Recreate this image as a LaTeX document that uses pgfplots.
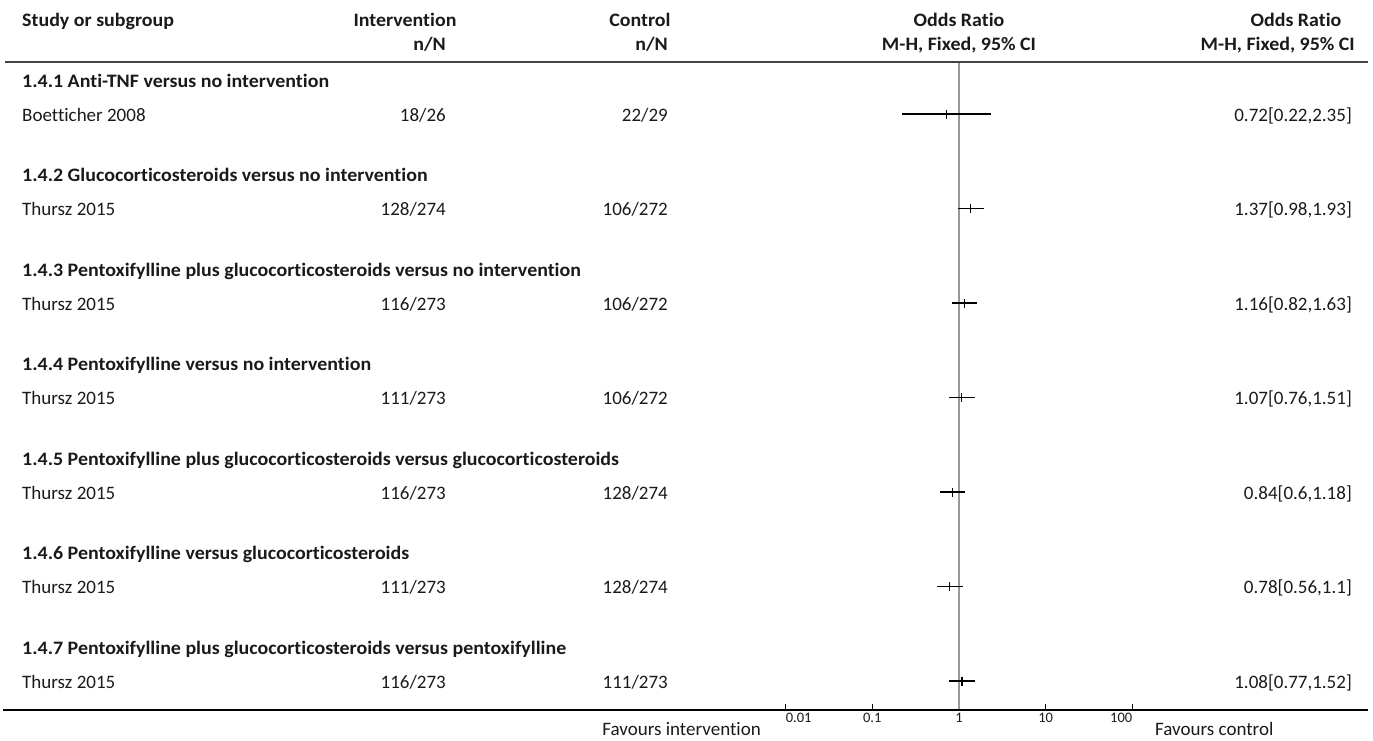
\documentclass[border=0pt]{standalone}
\usepackage{pgfplots}
\pgfplotsset{compat=1.18}
\usepackage{pgfplotstable}
\usepackage{fontspec}
\setmainfont{Carlito}[Ligatures=NoCommon, BoldFeatures={FakeStretch=1.05}]

\definecolor{rulegray}{HTML}{444444}
\definecolor{refgray}{HTML}{999999}
\definecolor{ink}{HTML}{1A1A1A}

% one row per comparison: subgroup heading, study, events/total in both arms, OR with 95% CI
\pgfplotstableread[col sep=comma]{
row,grp,study,ie,it,ce,ct,or,lo,hi
0,1.4.1 Anti-TNF versus no intervention,Boetticher 2008,18,26,22,29,0.72,0.22,2.35
1,1.4.2 Glucocorticosteroids versus no intervention,Thursz 2015,128,274,106,272,1.37,0.98,1.93
2,1.4.3 Pentoxifylline plus glucocorticosteroids versus no intervention,Thursz 2015,116,273,106,272,1.16,0.82,1.63
3,1.4.4 Pentoxifylline versus no intervention,Thursz 2015,111,273,106,272,1.07,0.76,1.51
4,1.4.5 Pentoxifylline plus glucocorticosteroids versus glucocorticosteroids,Thursz 2015,116,273,128,274,0.84,0.6,1.18
5,1.4.6 Pentoxifylline versus glucocorticosteroids,Thursz 2015,111,273,128,274,0.78,0.56,1.1
6,1.4.7 Pentoxifylline plus glucocorticosteroids versus pentoxifylline,Thursz 2015,116,273,111,273,1.08,0.77,1.52
}\studies

\newcommand{\rowfont}{\fontsize{19}{22}\selectfont}
\newcommand{\scalefont}{\fontsize{14.5}{17}\selectfont}

\begin{document}
\begin{tikzpicture}
\path[use as bounding box] (0pt,0pt) rectangle (1373pt,-740pt);

\begin{axis}[
  at={(785.6pt,-710pt)}, anchor=south west,
  scale only axis, width=346.8pt, height=647pt,
  xmode=log, xmin=0.01, xmax=100,
  ymin=-6.3069, ymax=0.5397,
  axis x line*=bottom, hide y axis,
  axis line style={draw=none},
  xtick={0.01,0.1,1,10,100},
  xticklabels={},
  tick align=inside, major tick length=6pt,
  tick style={black, line width=0.9pt},
  minor tick num=0, xminorticks=false,
  clip=false,
]
% line of no effect
\draw[refgray, line width=1.4pt] (axis cs:1,-6.3069) -- (axis cs:1,0.5397);
% odds ratios with 95% confidence intervals
\addplot[black, line width=1.2pt, only marks, mark=|, mark size=4.5pt,
  error bars/.cd, x dir=both, x explicit,
  error bar style={line width=1.2pt, black}, error mark=none]
  table[x=or, y expr=-\thisrow{row},
        x error minus expr=\thisrow{or}-\thisrow{lo},
        x error plus expr=\thisrow{hi}-\thisrow{or}] {\studies};
% scale labels: outer ones kept inside the axis span
\begin{scope}[every node/.style={inner sep=0pt, text=ink, font=\scalefont, yshift=-12.5pt}]
\node[anchor=base west] at (axis cs:0.01,-6.3069) {0.01};
\node[anchor=base] at (axis cs:0.1,-6.3069) {0.1};
\node[anchor=base] at (axis cs:1,-6.3069) {1};
\node[anchor=base] at (axis cs:10,-6.3069) {10};
\node[anchor=base east] at (axis cs:100,-6.3069) {100};
\end{scope}
\end{axis}

% rules
\draw[rulegray, line width=2pt] (5pt,-62pt) -- (1368pt,-62pt);
\draw[black, line width=1.4pt] (3pt,-710pt) -- (1368pt,-710pt);

% column headings
\begin{scope}[every node/.style={inner sep=0pt, text=ink}, font=\rowfont\bfseries]
\node[anchor=base west] at (22pt,-26pt) {Study or subgroup};
\node[anchor=base] at (405pt,-26pt) {Intervention};
\node[anchor=base east] at (446pt,-50pt) {n/N};
\node[anchor=base] at (640pt,-26pt) {Control};
\node[anchor=base east] at (668pt,-50pt) {n/N};
\node[anchor=base] at (959pt,-26pt) {Odds Ratio};
\node[anchor=base] at (959pt,-50pt) {M-H, Fixed, 95\% CI};
\node[anchor=base] at (1296pt,-26pt) {Odds Ratio};
\node[anchor=base east] at (1355pt,-50pt) {M-H, Fixed, 95\% CI};
\end{scope}

% subgroup headings and study rows
\begin{scope}[every node/.style={inner sep=0pt, text=ink}, font=\rowfont]
\foreach \i in {0,...,6} {
  \pgfplotstablegetelem{\i}{grp}\of\studies \let\grp\pgfplotsretval
  \pgfplotstablegetelem{\i}{study}\of\studies \let\st\pgfplotsretval
  \pgfplotstablegetelem{\i}{ie}\of\studies \let\ie\pgfplotsretval
  \pgfplotstablegetelem{\i}{it}\of\studies \let\itot\pgfplotsretval
  \pgfplotstablegetelem{\i}{ce}\of\studies \let\ce\pgfplotsretval
  \pgfplotstablegetelem{\i}{ct}\of\studies \let\ctot\pgfplotsretval
  \pgfplotstablegetelem{\i}{or}\of\studies \let\orv\pgfplotsretval
  \pgfplotstablegetelem{\i}{lo}\of\studies \let\lov\pgfplotsretval
  \pgfplotstablegetelem{\i}{hi}\of\studies \let\hiv\pgfplotsretval
  \pgfmathsetmacro\yg{-(87+94.5*\i)}
  \pgfmathsetmacro\ys{-(121+94.5*\i)}
  \node[anchor=base west, font=\rowfont\bfseries] at (22pt,\yg pt) {\grp};
  \node[anchor=base west] at (22pt,\ys pt) {\st};
  \node[anchor=base east] at (446pt,\ys pt) {\ie/\itot};
  \node[anchor=base east] at (668pt,\ys pt) {\ce/\ctot};
  \node[anchor=base east] at (1352pt,\ys pt) {\orv[\lov,\hiv]};
}
\node[anchor=base east] at (761pt,-735pt) {Favours intervention};
\node[anchor=base west] at (1155pt,-735pt) {Favours control};
\end{scope}
\end{tikzpicture}
\end{document}
